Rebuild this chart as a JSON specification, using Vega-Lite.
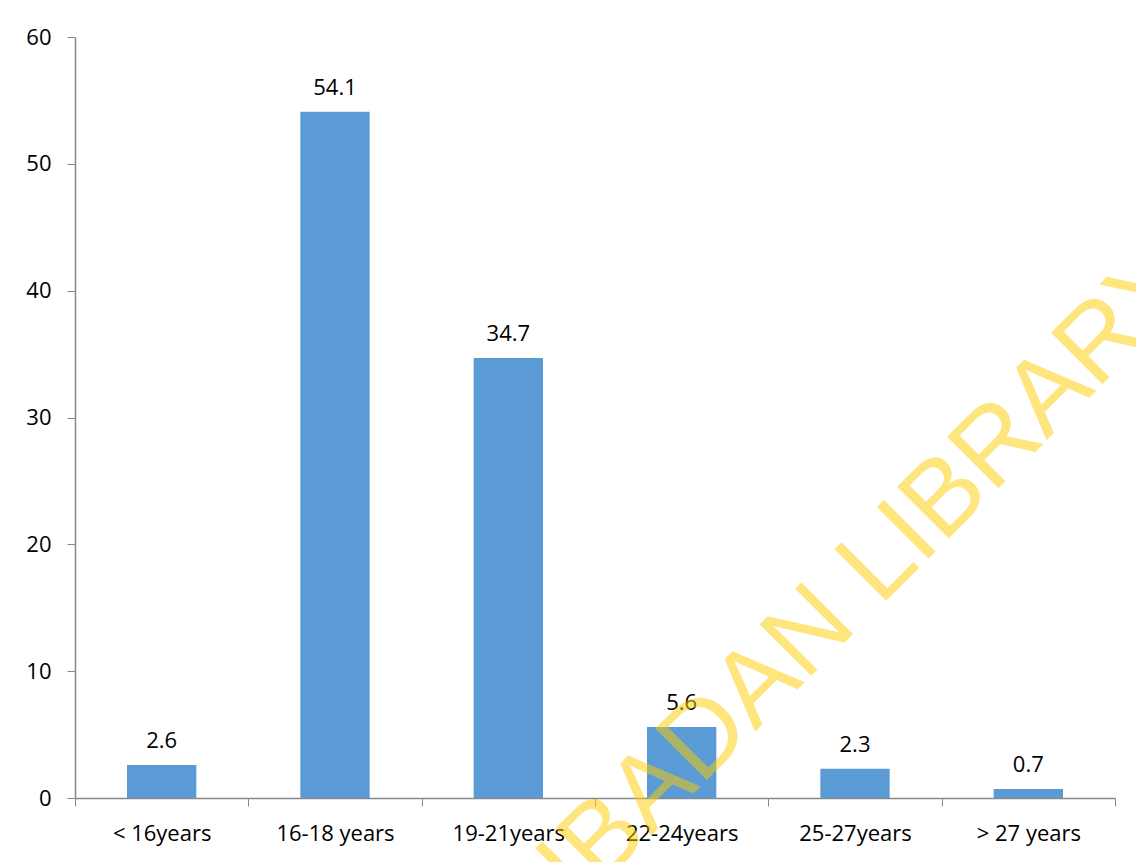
{
  "$schema": "https://vega.github.io/schema/vega-lite/v6.json",
  "width": 1040,
  "height": 761,
  "autosize": {"type": "none"},
  "padding": {"left": 75, "top": 37, "right": 21, "bottom": 64},
  "background": "white",
  "config": {"view": {"stroke": null}, "font": "Open Sans"},
  "datasets": {
    "ages": [
      {"group": "< 16years", "percent": 2.6},
      {"group": "16-18 years", "percent": 54.1},
      {"group": "19-21years", "percent": 34.7},
      {"group": "22-24years", "percent": 5.6},
      {"group": "25-27years", "percent": 2.3},
      {"group": "> 27 years", "percent": 0.7}
    ],
    "mark": [
      {"group": "25-27years", "percent": 13.09, "label": "IBADAN LIBRARY"}
    ]
  },
  "encoding": {
    "x": {
      "field": "group",
      "type": "nominal",
      "sort": null,
      "scale": {"paddingInner": 0, "paddingOuter": 0},
      "axis": {
        "title": null,
        "labelAngle": 0,
        "tickBand": "extent",
        "tickSize": 8,
        "labelPadding": 17,
        "labelFontSize": 22,
        "labelColor": "#000000",
        "labelFont": "Open Sans",
        "domainColor": "#888888",
        "tickColor": "#888888",
        "domainWidth": 1.5,
        "tickWidth": 1
      }
    },
    "y": {
      "field": "percent",
      "type": "quantitative",
      "scale": {"domain": [0, 60], "nice": false, "zero": true},
      "axis": {
        "title": null,
        "values": [0, 10, 20, 30, 40, 50, 60],
        "grid": false,
        "tickSize": 8,
        "labelPadding": 16,
        "labelFontSize": 22,
        "labelColor": "#000000",
        "labelFont": "Open Sans",
        "domainColor": "#888888",
        "tickColor": "#888888",
        "domainWidth": 1.5,
        "tickWidth": 1
      }
    }
  },
  "layer": [
    {
      "data": {"name": "ages"},
      "mark": {"type": "bar", "color": "#5B9BD5", "width": {"band": 0.4}}
    },
    {
      "data": {"name": "ages"},
      "mark": {"type": "text", "baseline": "alphabetic", "dy": -17, "fontSize": 22, "font": "Open Sans", "color": "#000000"},
      "encoding": {"text": {"field": "percent", "type": "quantitative", "format": ".1f"}}
    },
    {
      "data": {"name": "mark"},
      "mark": {"type": "text", "angle": -45, "align": "center", "baseline": "alphabetic", "dx": 49, "fontSize": 106, "font": "Liberation Sans", "color": "#FFCC00", "opacity": 0.5},
      "encoding": {"text": {"field": "label", "type": "nominal"}}
    }
  ]
}
